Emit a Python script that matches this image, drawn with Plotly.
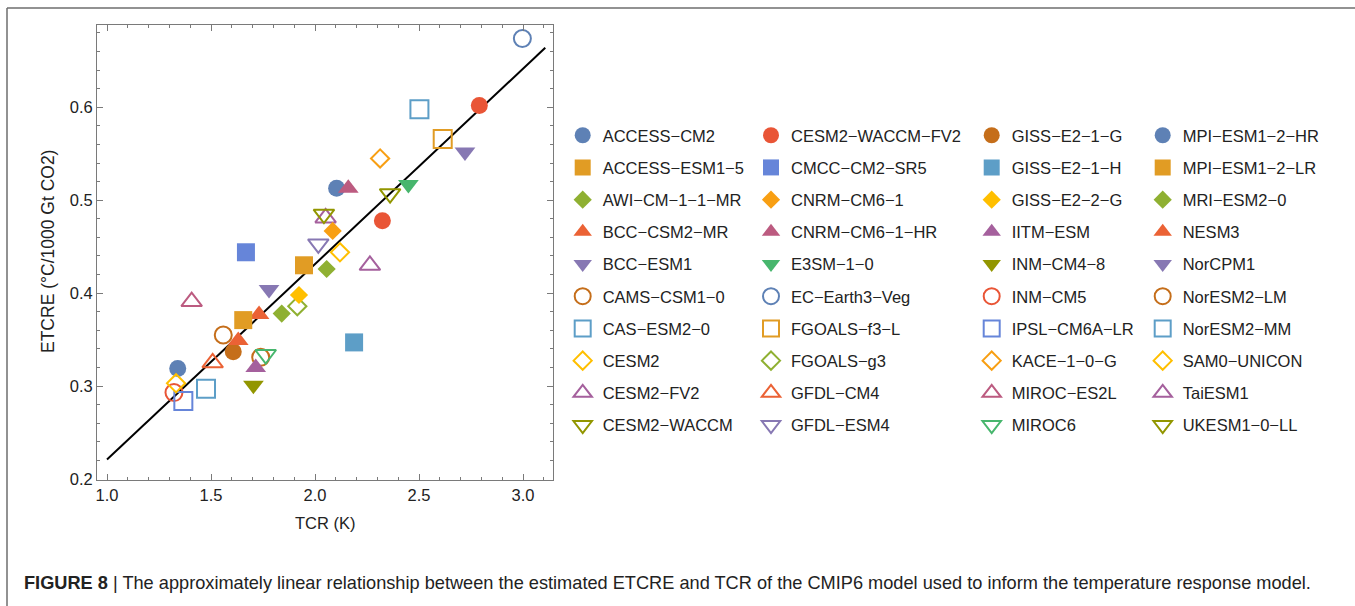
import plotly.graph_objects as go

# ---- data ----
models = [
    "ACCESS-CM2", "ACCESS-ESM1-5", "AWI-CM-1-1-MR", "BCC-CSM2-MR", "BCC-ESM1",
    "CAMS-CSM1-0", "CAS-ESM2-0", "CESM2", "CESM2-FV2", "CESM2-WACCM",
    "CESM2-WACCM-FV2", "CMCC-CM2-SR5", "CNRM-CM6-1", "CNRM-CM6-1-HR", "E3SM-1-0",
    "EC-Earth3-Veg", "FGOALS-f3-L", "FGOALS-g3", "GFDL-CM4", "GFDL-ESM4",
    "GISS-E2-1-G", "GISS-E2-1-H", "GISS-E2-2-G", "IITM-ESM", "INM-CM4-8",
    "INM-CM5", "IPSL-CM6A-LR", "KACE-1-0-G", "MIROC-ES2L", "MIROC6",
    "MPI-ESM1-2-HR", "MPI-ESM1-2-LR", "MRI-ESM2-0", "NESM3", "NorCPM1",
    "NorESM2-LM", "NorESM2-MM", "SAM0-UNICON", "TaiESM1", "UKESM1-0-LL",
    "",  # 41st point plotted but not listed in the legend
]
tcr = [
    2.104, 1.947, 2.056, 1.731, 1.779,
    1.739, 2.502, 2.120, 2.051, 2.043,
    2.790, 1.668, 2.085, 2.160, 2.449,
    2.997, 2.614, 1.915, 1.508, 2.016,
    1.607, 2.188, 1.923, 1.715, 1.704,
    1.322, 1.367, 2.313, 1.407, 1.763,
    1.340, 1.655, 1.840, 1.631, 2.721,
    1.559, 1.476, 1.332, 2.264, 2.361,
    2.324,
]
etcre = [
    0.513, 0.430, 0.426, 0.377, 0.404,
    0.331, 0.598, 0.444, 0.481, 0.485,
    0.602, 0.444, 0.467, 0.513, 0.517,
    0.674, 0.566, 0.386, 0.325, 0.453,
    0.337, 0.347, 0.398, 0.320, 0.301,
    0.293, 0.284, 0.545, 0.391, 0.334,
    0.319, 0.371, 0.378, 0.349, 0.552,
    0.355, 0.297, 0.303, 0.430, 0.507,
    0.478,
]
fit_x = [1.0, 3.107]
fit_slope = 0.2103
fit_intercept = 0.0107

x_ticks = [1.0, 1.5, 2.0, 2.5, 3.0]
y_ticks = [0.2, 0.3, 0.4, 0.5, 0.6]
x_title = "TCR (K)"
y_title = "ETCRE (°C/1000 Gt CO2)"
caption = ("<b>FIGURE 8</b> | The approximately linear relationship between the estimated ETCRE and TCR "
           "of the CMIP6 model used to inform the temperature response model.")

# ---- styles ----
palette = ["#5E81B5", "#E19C24", "#8FB032", "#EB6235", "#8778B3",
           "#C56E1A", "#5D9EC7", "#FFBF00", "#A5609D", "#929600",
           "#E95536", "#6685D9", "#F89F13", "#BC5B80", "#47B66D"]
symbols = ["circle", "square", "diamond", "triangle-up", "triangle-down",
           "circle-open", "square-open", "diamond-open", "triangle-up-open", "triangle-down-open"]
sym_size = {"circle": 17, "square": 18, "diamond": 14, "triangle-up": 18, "triangle-down": 18}

FONT = "Liberation Sans, Arial, sans-serif"
W, H = 1355, 606
L, R, T, B = 97, 553, 25, 480  # plot area in pixels

fig = go.Figure()

# regression line
fig.add_trace(go.Scatter(
    x=fit_x, y=[fit_intercept + fit_slope * v for v in fit_x],
    mode="lines", line=dict(color="black", width=2), showlegend=False, hoverinfo="skip"))

legend_names = ["legend", "legend2", "legend3", "legend4"]
for i, (name, xv, yv) in enumerate(zip(models, tcr, etcre)):
    col = palette[i % 15]
    sym = symbols[i % 10]
    base = sym.replace("-open", "")
    disp = name.replace("-", "\u2212")
    fig.add_trace(go.Scatter(
        x=[xv], y=[yv], mode="markers", name=disp,
        legend=legend_names[min(i // 10, 3)],
        legendgroup=name or "extra",
        showlegend=bool(name),
        marker=dict(symbol=sym, size=sym_size[base], color=col,
                    line=dict(color=col, width=2 if sym.endswith("open") else 0)),
    ))

axis_common = dict(
    showgrid=False, zeroline=False, showline=True, linecolor="#7a7a7a", linewidth=1,
    mirror="allticks", ticks="inside", ticklen=6, tickcolor="#7a7a7a", tickwidth=1,
    tickfont=dict(family=FONT, size=16.5, color="#222"),
)
fig.update_xaxes(
    range=[1.0 - (107 - L) / 208, 3.0 + (R - 523) / 208],
    tickmode="array", tickvals=x_ticks, ticktext=[f"{v:.1f}" for v in x_ticks],
    minor=dict(tickmode="linear", dtick=0.1, tick0=1.0, ticks="inside", ticklen=3,
               tickcolor="#7a7a7a", tickwidth=1),
    **axis_common)
fig.update_yaxes(
    range=[0.2 - (B - 479) / 929, 0.6 + (107.3 - T) / 929],
    tickmode="array", tickvals=y_ticks, ticktext=[f"{v:.1f}" for v in y_ticks],
    minor=dict(tickmode="linear", dtick=0.02, tick0=0.2, ticks="inside", ticklen=3,
               tickcolor="#7a7a7a", tickwidth=1),
    **axis_common)

col_marker_x = [582.7, 771.0, 991.7, 1162.7]
legend_layout = {}
for k, ln in enumerate(legend_names):
    legend_layout[ln] = dict(
        xref="container", yref="container",
        x=(col_marker_x[k] - 20) / W, xanchor="left",
        y=1 - 118 / H, yanchor="top",
        bgcolor="rgba(0,0,0,0)", borderwidth=0,
        font=dict(family=FONT, size=16.5, color="#222"),
        tracegroupgap=7.75, itemsizing="trace", itemclick=False, itemdoubleclick=False,
        maxheight=560,
    )

def px_x(p):
    return (p - L) / (R - L)

def px_y(p):
    return (B - p) / (B - T)

fig.update_layout(
    width=W, height=H,
    margin=dict(l=L, r=W - R, t=T, b=H - B, autoexpand=False),
    paper_bgcolor="white", plot_bgcolor="white",
    font=dict(family=FONT, color="#222"),
    **legend_layout,
    shapes=[
        dict(type="line", xref="paper", yref="paper", x0=px_x(7), x1=px_x(1360),
             y0=px_y(8), y1=px_y(8), line=dict(color="#6e6e6e", width=1.5)),
        dict(type="line", xref="paper", yref="paper", x0=px_x(7), x1=px_x(7),
             y0=px_y(8), y1=px_y(610), line=dict(color="#6e6e6e", width=1.5)),
    ],
    annotations=[
        dict(xref="paper", yref="paper", x=px_x(325), y=px_y(523), xanchor="center", yanchor="middle",
             showarrow=False, text=x_title, font=dict(family=FONT, size=16.5, color="#222")),
        dict(xref="paper", yref="paper", x=px_x(48), y=px_y(252), xanchor="center", yanchor="middle",
             showarrow=False, text=y_title, textangle=-90, font=dict(family=FONT, size=17.5, color="#222")),
        dict(xref="paper", yref="paper", x=px_x(22), y=px_y(583), xanchor="left", yanchor="middle",
             showarrow=False, text=caption, font=dict(family=FONT, size=18.2, color="#222")),
    ],
)

fig.write_html("out.html")
